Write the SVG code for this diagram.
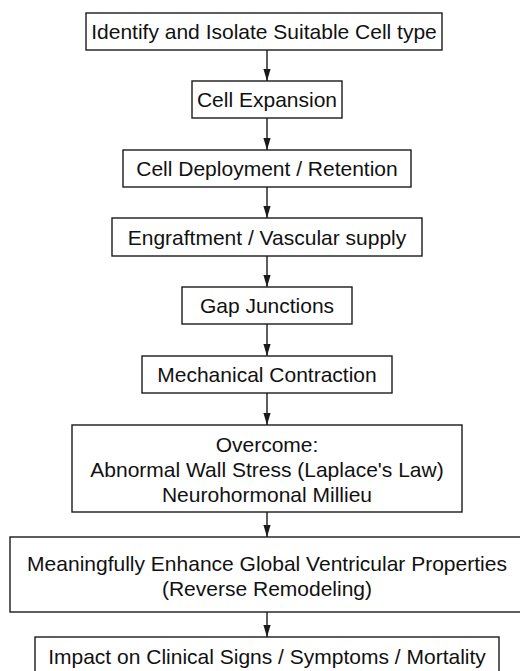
<svg xmlns="http://www.w3.org/2000/svg" width="520" height="671" viewBox="0 0 520 671">
<style>
.box{fill:#fff;stroke:#1a1a1a;stroke-width:1.4}
.t{font-family:"Liberation Sans",Arial,sans-serif;font-size:21px;fill:#111;text-anchor:middle}
.c{stroke:#1a1a1a;stroke-width:1.4;fill:none}
</style>
<defs>
<marker id="ah" viewBox="0 0 12 8" refX="12" refY="4" markerWidth="12" markerHeight="8" markerUnits="userSpaceOnUse" orient="auto">
<path d="M0,0.4 L12,4 L0,7.6 Z" fill="#1a1a1a"/>
</marker>
</defs>
<rect width="520" height="671" fill="#fff"/>
<g id="connectors">
<line class="c" x1="267" y1="50" x2="267" y2="81" marker-end="url(#ah)"/>
<line class="c" x1="267" y1="118" x2="267" y2="150" marker-end="url(#ah)"/>
<line class="c" x1="267" y1="187" x2="267" y2="218" marker-end="url(#ah)"/>
<line class="c" x1="267" y1="256" x2="267" y2="287" marker-end="url(#ah)"/>
<line class="c" x1="267" y1="324" x2="267" y2="356" marker-end="url(#ah)"/>
<line class="c" x1="267" y1="393" x2="267" y2="425" marker-end="url(#ah)"/>
<line class="c" x1="267" y1="512" x2="267" y2="537" marker-end="url(#ah)"/>
<line class="c" x1="267" y1="612" x2="267" y2="637" marker-end="url(#ah)"/>
</g>
<g id="n1"><rect class="box" x="86" y="13" width="356" height="37"/><text class="t" x="264" y="38.5">Identify and Isolate Suitable Cell type</text></g>
<g id="n2"><rect class="box" x="192" y="81" width="150" height="37"/><text class="t" x="267" y="107">Cell Expansion</text></g>
<g id="n3"><rect class="box" x="123" y="150" width="288" height="37"/><text class="t" x="267" y="176">Cell Deployment / Retention</text></g>
<g id="n4"><rect class="box" x="112" y="218" width="310" height="38"/><text class="t" x="267" y="244.5">Engraftment / Vascular supply</text></g>
<g id="n5"><rect class="box" x="182" y="287" width="170" height="37"/><text class="t" x="267" y="313">Gap Junctions</text></g>
<g id="n6"><rect class="box" x="142" y="356" width="250" height="37"/><text class="t" x="267" y="382">Mechanical Contraction</text></g>
<g id="n7"><rect class="box" x="72" y="425" width="390" height="87"/><text class="t" x="267" y="451.5">Overcome:</text><text class="t" x="267" y="476.5">Abnormal Wall Stress (Laplace's Law)</text><text class="t" x="267" y="501.5">Neurohormonal Millieu</text></g>
<g id="n8"><rect class="box" x="10" y="537" width="514" height="75"/><text class="t" x="267" y="570.5">Meaningfully Enhance Global Ventricular Properties</text><text class="t" x="267" y="595.5">(Reverse Remodeling)</text></g>
<g id="n9"><rect class="box" x="35" y="637" width="464" height="37"/><text class="t" x="267" y="663.5">Impact on Clinical Signs / Symptoms / Mortality</text></g>
</svg>
